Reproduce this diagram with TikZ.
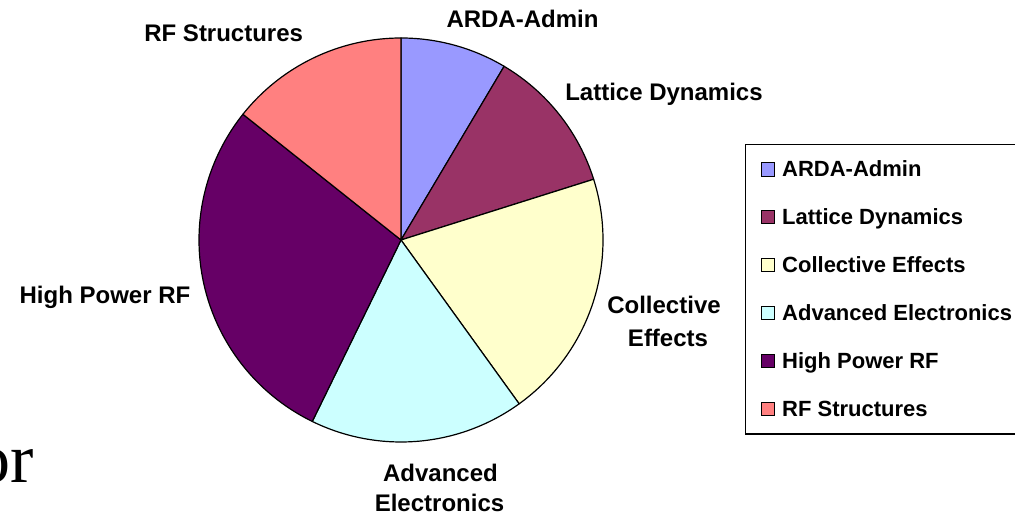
\documentclass[tikz,border=0pt]{standalone}
\usepackage{fontspec}
\setmainfont{Liberation Sans}
\newfontfamily\serifor{Liberation Serif}
\definecolor{cArda}{HTML}{9999FF}
\definecolor{cLattice}{HTML}{993366}
\definecolor{cCollective}{HTML}{FFFFCC}
\definecolor{cAdvanced}{HTML}{CCFFFF}
\definecolor{cHighPower}{HTML}{660066}
\definecolor{cRFStruct}{HTML}{FF8080}
\tikzset{
  slice/.style={draw=black, line width=1.2pt, line join=round},
  lbl/.style={anchor=base, inner sep=0pt, font=\fontsize{24}{28}\selectfont\bfseries},
  legtext/.style={anchor=base west, inner sep=0pt, font=\fontsize{22}{26}\selectfont\bfseries},
  legkey/.style={draw=black, line width=1pt},
  legframe/.style={draw=black, line width=1.5pt}
}
\begin{document}
\begin{tikzpicture}[x=1pt,y=1pt]
\useasboundingbox (0,0) rectangle (1015,521);
\coordinate (C) at (401,281);
\def\R{202}
% slices
\filldraw[slice, fill=cArda] (C) -- ([shift={(C)}]90:\R) arc[start angle=90, end angle=59.3, radius=\R] -- cycle;
\filldraw[slice, fill=cLattice] (C) -- ([shift={(C)}]59.3:\R) arc[start angle=59.3, end angle=17.5, radius=\R] -- cycle;
\filldraw[slice, fill=cCollective] (C) -- ([shift={(C)}]17.5:\R) arc[start angle=17.5, end angle=-54.2, radius=\R] -- cycle;
\filldraw[slice, fill=cAdvanced] (C) -- ([shift={(C)}]-54.2:\R) arc[start angle=-54.2, end angle=-116.05, radius=\R] -- cycle;
\filldraw[slice, fill=cHighPower] (C) -- ([shift={(C)}]-116.05:\R) arc[start angle=-116.05, end angle=-218.5, radius=\R] -- cycle;
\filldraw[slice, fill=cRFStruct] (C) -- ([shift={(C)}]141.5:\R) arc[start angle=141.5, end angle=90, radius=\R] -- cycle;
% slice labels
\node[lbl] (lRF) at (223.7,479.3) {RF Structures};
\node[lbl] (lArda) at (522.5,493.7) {ARDA-Admin};
\node[lbl] (lLat) at (664,420) {Lattice Dynamics};
\node[lbl] (lCol1) at (664,207.7) {Collective};
\node[lbl] (lCol2) at (668,174) {Effects};
\node[lbl] (lHP) at (105,217.7) {High Power RF};
\node[lbl] (lAdv1) at (440.5,39.3) {Advanced};
\node[lbl] (lAdv2) at (439.5,9) {Electronics};
% stray text
\node[anchor=base east, inner sep=0pt, font=\serifor\fontsize{70}{80}\selectfont] (orTxt) at (34,38) {or};
% legend
\draw[legframe] (1030,87) -- (745.7,87) -- (745.7,376.7) -- (1030,376.7);
\foreach \i/\y/\c/\t in {1/344.3/cArda/ARDA-Admin,
                         2/296.4/cLattice/Lattice Dynamics,
                         3/248.5/cCollective/Collective Effects,
                         4/200.6/cAdvanced/Advanced Electronics,
                         5/152.7/cHighPower/High Power RF,
                         6/104.8/cRFStruct/RF Structures}{
  \filldraw[legkey, fill=\c] (761,\y+0.6) rectangle (774.3,\y+14);
  \node[legtext] (leg\i) at (782,\y) {\t};
}
\end{tikzpicture}
\end{document}
